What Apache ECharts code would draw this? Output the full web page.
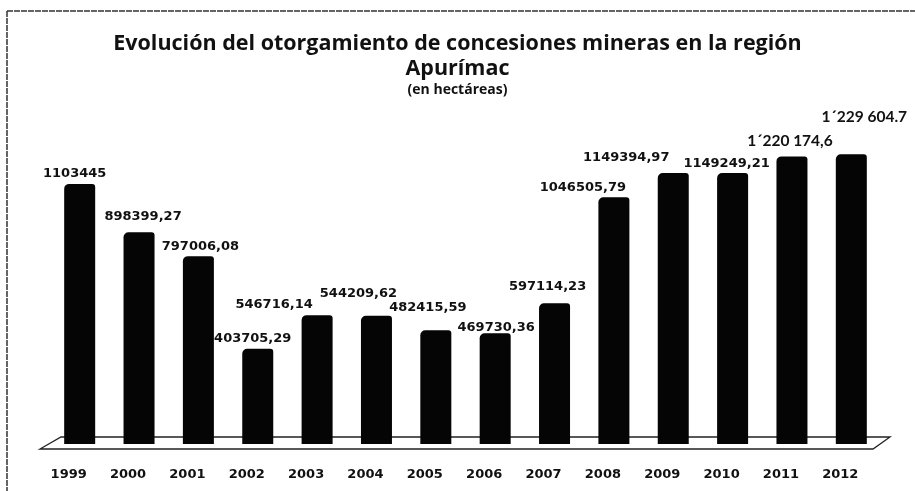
<!DOCTYPE html>
<html>
<head>
<meta charset="utf-8">
<script src="https://cdn.jsdelivr.net/npm/echarts@6/dist/echarts.min.js"></script>
<style>
html,body{margin:0;padding:0;background:#fff;}
#chart{width:915px;height:491px;}
</style>
</head>
<body>
<div id="chart"></div>
<script>
const years = ['1999','2000','2001','2002','2003','2004','2005','2006','2007','2008','2009','2010','2011','2012'];
const values = [1103445, 898399.27, 797006.08, 403705.29, 546716.14, 544209.62, 482415.59, 469730.36, 597114.23, 1046505.79, 1149394.97, 1149249.21, 1220174.6, 1229604.7];
const labelTexts = ['1103445','898399,27','797006,08','403705,29','546716,14','544209,62','482415,59','469730,36','597114,23','1046505,79','1149394,97','1149249,21','1\u00B4220 174,6','1\u00B4229 604.7'];
const titleLines = ['Evolución del otorgamiento de concesiones mineras en la región', 'Apurímac', '(en hectáreas)'];
// label placement tweaks (style only)
const labelOffsets = [[-5,1],[4,-4],[2,2],[-5,1],[-43,1],[-18,-11],[-8,-11],[1,6],[-7,-5],[-31,2],[-47,-4],[-6,2],[-2,-2],[13,-24]];

const chart = echarts.init(document.getElementById('chart'));
const data = values.map((v, i) => {
  const calibri = i >= 12;
  return {
    value: v,
    label: {
      show: true,
      position: 'top',
      distance: 5,
      offset: labelOffsets[i],
      formatter: () => labelTexts[i],
      fontFamily: calibri ? 'Lato' : 'DejaVu Sans',
      fontWeight: 'bold',
      fontSize: calibri ? 15.5 : 13,
      color: '#111'
    }
  };
});

const titleFont = {fontFamily: 'Open Sans', fontWeight: 'bold', color: '#111'};
chart.setOption({
  animation: false,
  backgroundColor: '#ffffff',
  title: [
    {text: titleLines[0], left: 'center', top: 33, padding: 0, textStyle: Object.assign({fontSize: 21.5}, titleFont)},
    {text: titleLines[1], left: 'center', top: 58, padding: 0, textStyle: Object.assign({fontSize: 21.5}, titleFont)},
    {text: titleLines[2], left: 'center', top: 83, padding: 0, textStyle: Object.assign({fontSize: 14}, titleFont)}
  ],
  grid: {left: 50, right: 34, top: 114, bottom: 47},
  xAxis: {
    type: 'category',
    data: years,
    axisLine: {show: false},
    axisTick: {show: false},
    axisLabel: {
      margin: 24,
      padding: [0, 22, 0, 0],
      fontFamily: 'DejaVu Sans',
      fontWeight: 'bold',
      fontSize: 13,
      color: '#111'
    }
  },
  yAxis: {
    type: 'value',
    min: 0,
    max: 1400000,
    show: false,
    splitLine: {show: false}
  },
  graphic: [
    {type: 'polygon', z: 0, shape: {points: [[40,449],[873,449],[890,437],[61,437]]}, style: {fill: '#fff', stroke: '#222', lineWidth: 1.3}},
    {type: 'line', z: 0, shape: {x1: 7, y1: 11, x2: 915, y2: 11}, style: {stroke: '#333', lineWidth: 1.5, lineDash: [6, 1]}},
    {type: 'line', z: 0, shape: {x1: 7, y1: 11, x2: 7, y2: 491}, style: {stroke: '#333', lineWidth: 1.5, lineDash: [6, 1]}}
  ],
  series: [{
    type: 'bar',
    data: data,
    barWidth: 31,
    itemStyle: {color: '#050505', borderRadius: [5, 3, 0, 0]},
    z: 5
  }]
});
</script>
</body>
</html>
